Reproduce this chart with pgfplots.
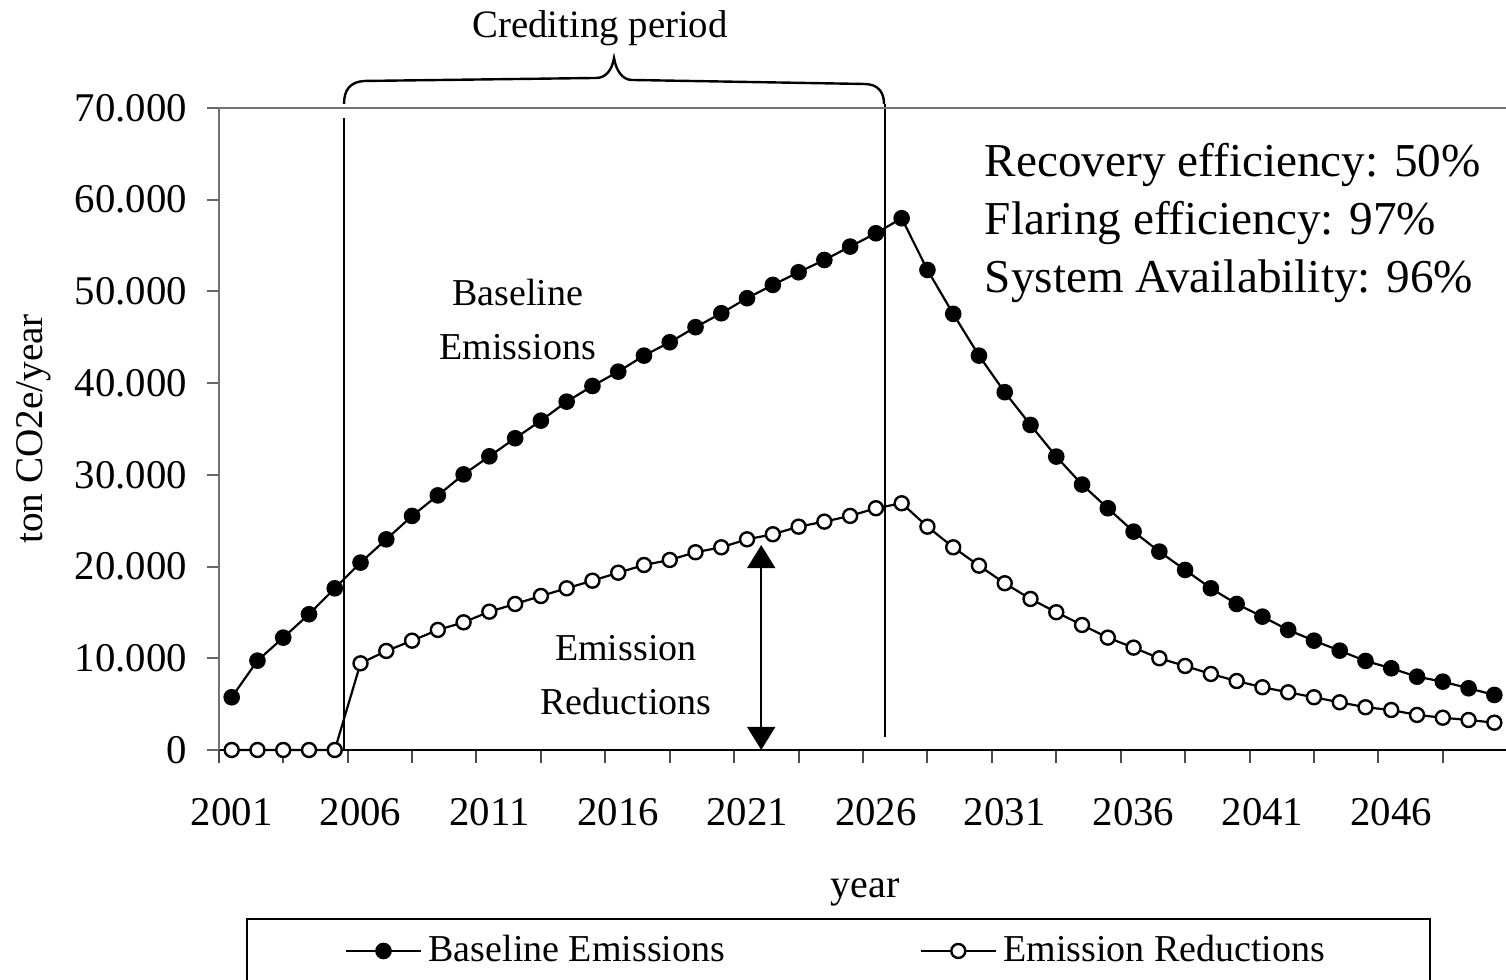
\documentclass[border=0pt]{standalone}
\usepackage{fontspec}
\setmainfont{Liberation Serif}
\usepackage{pgfplots}
\pgfplotsset{compat=1.18}
\usepackage{pgfplotstable}
\usetikzlibrary{arrows.meta}

\pgfplotstableread{
year base red
2001 5750 0
2002 9740 0
2003 12250 0
2004 14800 0
2005 17630 0
2006 20430 9450
2007 22970 10800
2008 25520 11920
2009 27760 13090
2010 30050 13920
2011 32020 15080
2012 33990 15920
2013 35910 16790
2014 37980 17630
2015 39690 18460
2016 41250 19330
2017 43000 20170
2018 44460 20720
2019 46100 21560
2020 47620 22100
2021 49260 22970
2022 50710 23520
2023 52090 24350
2024 53430 24900
2025 54890 25520
2026 56340 26360
2027 57980 26900
2028 52340 24350
2029 47550 22100
2030 43000 20100
2031 39010 18180
2032 35440 16470
2033 31990 15020
2034 28940 13630
2035 26360 12250
2036 23810 11160
2037 21630 10000
2038 19630 9160
2039 17630 8290
2040 15920 7520
2041 14540 6840
2042 13090 6290
2043 11920 5750
2044 10830 5200
2045 9710 4660
2046 8910 4360
2047 7990 3820
2048 7450 3520
2049 6730 3270
2050 6000 2980
}\datatable

\newcommand{\tickfont}{\fontsize{10.2}{12}\selectfont}
\newcommand{\annotfont}{\fontsize{9.5}{13.5}\selectfont}
\newcommand{\bigfont}{\fontsize{11.8}{14.5}\selectfont}

\begin{document}
\begin{tikzpicture}
\path[use as bounding box] (0,0) rectangle (376.5pt,245pt);
\begin{axis}[
  at={(54.7pt,57.5pt)}, anchor=south west,
  scale only axis, width=322.1pt, height=160.5pt,
  xmin=2000.5, xmax=2050.5, ymin=0, ymax=70000,
  axis lines*=left,
  x axis line style={-, black, line width=0.5pt},
  y axis line style={-, black!55, line width=0.5pt},
  clip=false,
  tick align=outside,
  xtick={2001,2006,...,2046},
  major x tick style={draw=none},
  minor xtick={2000.5,2003,2005.5,2008,2010.5,2013,2015.5,2018,2020.5,2023,2025.5,2028,2030.5,2033,2035.5,2038,2040.5,2043,2045.5,2048},
  minor x tick style={black!70, line width=0.5pt},
  minor tick length=3.3pt,
  major tick length=3pt,
  ytick={0,10000,...,70000},
  y tick style={black!60, line width=0.5pt},
  scaled y ticks=false,
  yticklabel style={/pgf/number format/fixed, /pgf/number format/1000 sep={.}, /pgf/number format/assume math mode=true, xshift=-1.4pt},
  xticklabel style={/pgf/number format/1000 sep={}, /pgf/number format/assume math mode=true, yshift=-5.5pt},
  every tick label/.append style={font=\tickfont},
  xlabel={year},
  xlabel style={at={(axis description cs:0.5016,-0.222)}, anchor=center, font=\fontsize{10}{12}\selectfont},
  ylabel={ton CO2e/year},
  ylabel style={at={(axis description cs:-0.1435,0.5)}, anchor=center, rotate=0, font=\fontsize{9.8}{12}\selectfont},
  legend columns=2,
  legend cell align=left,
  legend style={at={(0.0211,-0.2617)}, anchor=north west, draw=black, line width=0.4pt,
    font=\fontsize{9.5}{11}\selectfont, inner xsep=24.5pt, inner ysep=2pt,
    nodes={inner xsep=1.6pt, inner ysep=2pt},
    /tikz/every even column/.append style={column sep=47pt}},
  legend image code/.code={\draw[mark repeat=2,mark phase=2,#1] plot coordinates {(0pt,0pt) (9.4pt,0pt) (18.8pt,0pt)};},
]
\addplot[black, line width=0.55pt, mark=*, mark size=1.8pt, mark options={solid, fill=black}] table[x=year,y=base]{\datatable};
\addlegendentry{Baseline Emissions}
\addplot[black, line width=0.55pt, mark=*, mark size=1.75pt, mark options={solid, fill=white, line width=0.6pt}] table[x=year,y=red]{\datatable};
\addlegendentry{Emission Reductions}

\draw[line width=0.55pt] (axis cs:2005.37,0) -- (axis cs:2005.37,68910);
\draw[line width=0.55pt] (axis cs:2026.35,1420) -- (axis cs:2026.35,70440);
\draw[black!55, line width=0.5pt] (rel axis cs:0,1) -- (rel axis cs:1,1);
\draw[line width=0.55pt, {Triangle[width=7pt,length=5.8pt]}-{Triangle[width=7pt,length=5.8pt]}] (axis cs:2021.55,0) -- (axis cs:2021.55,22350);

\node[align=center, font=\annotfont] at (axis cs:2012.1,46890) {Baseline\\Emissions};
\node[align=center, font=\annotfont] at (axis cs:2016.3,8180) {Emission\\Reductions};
\node[align=left, anchor=west, font=\bigfont, inner sep=0pt] at (axis cs:2030.2,57460) {Recovery efficiency: 50\%\\Flaring efficiency: 97\%\\System Availability: 96\%};
\end{axis}
\begin{scope}[x=0.25pt,y=-0.25pt,shift={(0pt,245pt)}]
\draw[line width=0.6pt] (344,104) .. controls (344,90) and (350,82) .. (364,81) -- (596,78) .. controls (606,78) and (612,70) .. (614,58) .. controls (616,70) and (622,80) .. (632,80) -- (864,84) .. controls (878,84) and (884,92) .. (884,104);
\node[font=\fontsize{9.7}{12}\selectfont] at (600,28) {Crediting period};
\end{scope}
\end{tikzpicture}
\end{document}
